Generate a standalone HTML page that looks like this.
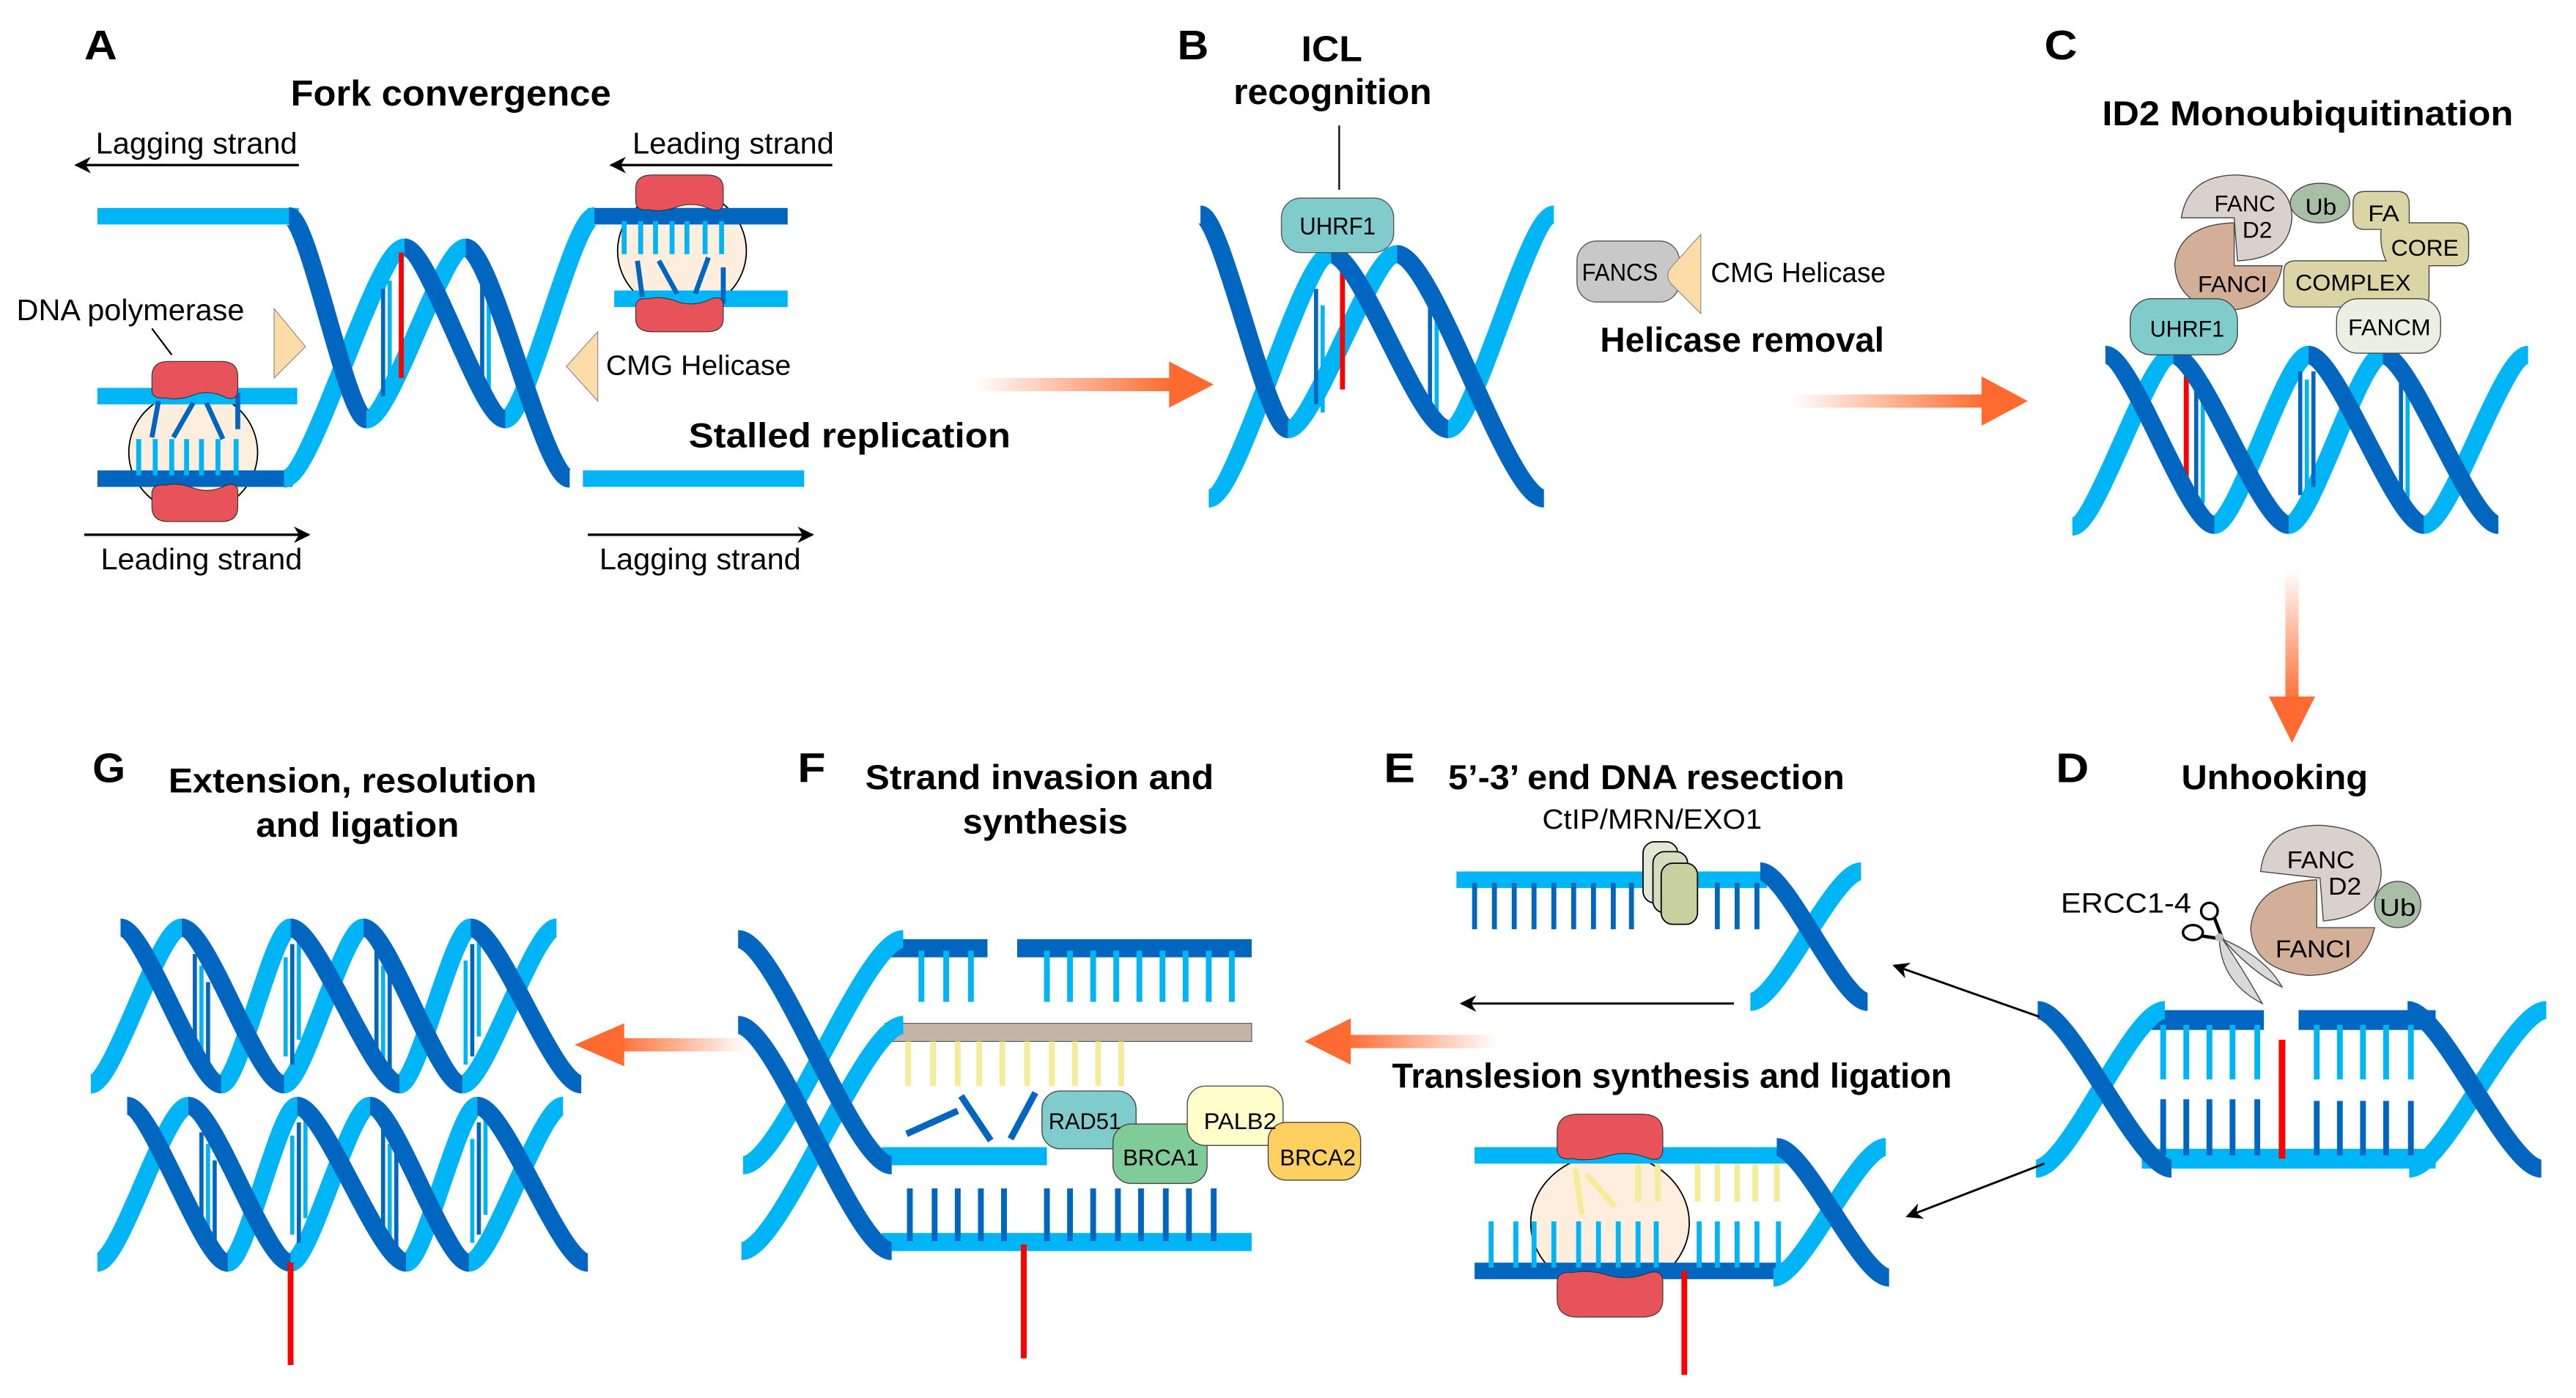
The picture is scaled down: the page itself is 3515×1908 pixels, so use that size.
<!DOCTYPE html>
<html><head><meta charset="utf-8"><style>
html,body{margin:0;padding:0;background:#fff;}
svg{display:block;}
text{font-family:"Liberation Sans",Arial,sans-serif;fill:#000;}
.b{font-weight:bold;}
.dk{fill:none;stroke:#0066bf;stroke-width:11;}
.lt{fill:none;stroke:#00b5f5;stroke-width:11;}
</style></head><body>
<svg width="3515" height="1908" viewBox="0 0 1560 847" preserveAspectRatio="none" xmlns="http://www.w3.org/2000/svg">
<defs>
<linearGradient id="gr" x1="0" y1="0" x2="1" y2="0"><stop offset="0" stop-color="#ff6a30" stop-opacity="0"/><stop offset="1" stop-color="#ff6a30"/></linearGradient>
<linearGradient id="gl" x1="1" y1="0" x2="0" y2="0"><stop offset="0" stop-color="#ff6a30" stop-opacity="0"/><stop offset="1" stop-color="#ff6a30"/></linearGradient>
<linearGradient id="gd" x1="0" y1="0" x2="0" y2="1"><stop offset="0" stop-color="#ff6a30" stop-opacity="0"/><stop offset="1" stop-color="#ff6a30"/></linearGradient>
<marker id="ah" markerWidth="10" markerHeight="10" refX="9" refY="5" orient="auto" markerUnits="userSpaceOnUse"><path d="M0,0 L10,5 L0,10 L3,5 Z" fill="#000"/></marker>
<g id="ghelix">
<path class="lt" d="M134 657 C145 657 165 562 176 562"/>
<path class="lt" d="M242 657 C253 657 274 562 285 562"/>
<path class="lt" d="M55 657 C69 657 96 562 110 562"/>
<path class="lt" d="M172 657 C184 657 208 562 220 562"/>
<path class="lt" d="M280 657 C294 657 323 562 337 562"/>
<g stroke-width="2.5">
<line x1="118" y1="578" x2="118" y2="640" stroke="#0066bf"/><line x1="122" y1="585" x2="122" y2="648" stroke="#00b5f5"/><line x1="126" y1="595" x2="126" y2="650" stroke="#0066bf"/>
<line x1="173" y1="580" x2="173" y2="640" stroke="#00b5f5"/><line x1="177" y1="572" x2="177" y2="645" stroke="#0066bf"/><line x1="181" y1="566" x2="181" y2="630" stroke="#00b5f5"/>
<line x1="228" y1="575" x2="228" y2="640" stroke="#0066bf"/><line x1="232" y1="585" x2="232" y2="648" stroke="#00b5f5"/><line x1="236" y1="590" x2="236" y2="650" stroke="#0066bf"/>
<line x1="282" y1="582" x2="282" y2="645" stroke="#00b5f5"/><line x1="286" y1="572" x2="286" y2="640" stroke="#0066bf"/><line x1="290" y1="566" x2="290" y2="628" stroke="#00b5f5"/>
</g>
<path class="dk" d="M73 562 C88 562 119 657 134 657"/>
<path class="dk" d="M176 562 C192 562 226 657 242 657"/>
<path class="dk" d="M285 562 C302 562 335 657 352 657"/>
<path class="dk" d="M110 562 C126 562 156 657 172 657"/>
<path class="dk" d="M220 562 C235 562 265 657 280 657"/>
</g>
</defs>

<!-- ================= PANEL A ================= -->
<text x="51" y="36" class="b" font-size="25" textLength="20" lengthAdjust="spacingAndGlyphs">A</text>
<text x="176" y="64" class="b" font-size="22" textLength="194" lengthAdjust="spacingAndGlyphs">Fork convergence</text>
<text x="58" y="93" font-size="18" textLength="122" lengthAdjust="spacingAndGlyphs">Lagging strand</text>
<line x1="181" y1="100" x2="46" y2="100" stroke="#000" stroke-width="1.5" marker-end="url(#ah)"/>
<text x="383" y="93" font-size="18" textLength="122" lengthAdjust="spacingAndGlyphs">Leading strand</text>
<line x1="504" y1="100" x2="370" y2="100" stroke="#000" stroke-width="1.5" marker-end="url(#ah)"/>
<line x1="51" y1="324" x2="187" y2="324" stroke="#000" stroke-width="1.5" marker-end="url(#ah)"/>
<text x="61" y="345" font-size="18" textLength="122" lengthAdjust="spacingAndGlyphs">Leading strand</text>
<line x1="356" y1="324" x2="492" y2="324" stroke="#000" stroke-width="1.5" marker-end="url(#ah)"/>
<text x="363" y="345" font-size="18" textLength="122" lengthAdjust="spacingAndGlyphs">Lagging strand</text>
<text x="10" y="194" font-size="18" textLength="138" lengthAdjust="spacingAndGlyphs">DNA polymerase</text>
<line x1="92" y1="199" x2="104" y2="215" stroke="#000" stroke-width="1"/>
<text x="367" y="227" font-size="17" textLength="112" lengthAdjust="spacingAndGlyphs">CMG Helicase</text>
<text x="417" y="271" class="b" font-size="21" textLength="195" lengthAdjust="spacingAndGlyphs">Stalled replication</text>

<ellipse cx="117" cy="274" rx="39" ry="37" fill="#fdeedd" stroke="#000" stroke-width="0.8"/>
<ellipse cx="413" cy="152" rx="39" ry="37" fill="#fdeedd" stroke="#000" stroke-width="0.8"/>
<rect x="59" y="126" width="122" height="10" fill="#00b5f5"/>
<rect x="59" y="235" width="121" height="10" fill="#00b5f5"/>
<rect x="59" y="285" width="118" height="10" fill="#0066bf"/>
<rect x="356" y="126" width="121" height="10" fill="#0066bf"/>
<rect x="372" y="176" width="105" height="10" fill="#00b5f5"/>
<rect x="353" y="285" width="134" height="10" fill="#00b5f5"/>
<g stroke="#00b5f5" stroke-width="3">
<line x1="84" y1="266" x2="84" y2="288"/><line x1="94" y1="266" x2="94" y2="288"/><line x1="104" y1="266" x2="104" y2="288"/><line x1="113" y1="266" x2="113" y2="288"/><line x1="122" y1="266" x2="122" y2="288"/><line x1="132" y1="266" x2="132" y2="288"/><line x1="143" y1="266" x2="143" y2="288"/>
<line x1="378" y1="134" x2="378" y2="154"/><line x1="388" y1="134" x2="388" y2="154"/><line x1="397" y1="134" x2="397" y2="154"/><line x1="407" y1="134" x2="407" y2="154"/><line x1="416" y1="134" x2="416" y2="154"/><line x1="427" y1="134" x2="427" y2="154"/><line x1="437" y1="134" x2="437" y2="154"/>
</g>
<g stroke="#0066bf" stroke-width="3">
<line x1="96" y1="243" x2="92" y2="265"/><line x1="117" y1="244" x2="105" y2="265"/><line x1="125" y1="244" x2="135" y2="266"/><line x1="144" y1="238" x2="144" y2="260"/>
<line x1="386" y1="158" x2="389" y2="180"/><line x1="399" y1="158" x2="410" y2="178"/><line x1="429" y1="156" x2="421" y2="178"/><line x1="438" y1="162" x2="438" y2="184"/>
</g>
<path d="M92 228 Q92 219 102 219 L134 219 Q144 219 144 228 L144 236 Q144 243 137 241 Q128 236 118 239 Q108 243 100 241 Q92 242 92 236 Z" fill="#e8525a" stroke="#333" stroke-width="0.5"/>
<path d="M92 307 Q92 316 102 316 L134 316 Q144 316 144 307 L144 298 Q144 292 137 294 Q128 299 118 296 Q108 292 100 294 Q92 293 92 299 Z" fill="#e8525a" stroke="#333" stroke-width="0.5"/>
<path d="M385 114 Q385 106 395 106 L428 106 Q438 106 438 114 L438 122 Q438 129 431 127 Q421 122 411 125 Q401 129 393 127 Q385 128 385 122 Z" fill="#e8525a" stroke="#333" stroke-width="0.5"/>
<path d="M385 193 Q385 201 395 201 L428 201 Q438 201 438 193 L438 185 Q438 179 431 181 Q421 186 411 183 Q401 179 393 181 Q385 180 385 186 Z" fill="#e8525a" stroke="#333" stroke-width="0.5"/>
<path d="M166 187 L185 210 L166 229 Z" fill="#fddcaa" stroke="#888" stroke-width="0.5"/>
<path d="M362 201 L343 222 L362 243 Z" fill="#fddcaa" stroke="#888" stroke-width="0.5"/>
<path class="lt" d="M222 254 C237 254 267 150 282 150"/>
<path class="lt" d="M172 290 C190 290 227 150 245 150"/>
<path class="lt" d="M306 254 C319 254 347 131 360 131"/>
<g stroke-width="2.5">
<line x1="232" y1="175" x2="232" y2="240" stroke="#0066bf"/><line x1="236" y1="170" x2="236" y2="245" stroke="#00b5f5"/>
<line x1="292" y1="170" x2="292" y2="235" stroke="#0066bf"/><line x1="296" y1="175" x2="296" y2="240" stroke="#00b5f5"/>
</g>
<line x1="243" y1="153" x2="243" y2="229" stroke="#ff0000" stroke-width="3"/>
<path class="dk" d="M175 131 C187 131 210 254 222 254"/>
<path class="dk" d="M282 150 C298 150 329 290 345 290"/>
<path class="dk" d="M245 150 C260 150 291 254 306 254"/>

<rect x="590" y="229" width="120" height="8" fill="url(#gr)"/>
<path d="M708 219 L735 233 L708 247 Z" fill="#ff6a30"/>

<!-- ================= PANEL B ================= -->
<text x="713" y="36" class="b" font-size="25" textLength="19" lengthAdjust="spacingAndGlyphs">B</text>
<text x="788" y="37" class="b" font-size="22" textLength="37" lengthAdjust="spacingAndGlyphs">ICL</text>
<text x="747" y="63" class="b" font-size="22" textLength="120" lengthAdjust="spacingAndGlyphs">recognition</text>
<line x1="811" y1="76" x2="811" y2="115" stroke="#000" stroke-width="1"/>
<path class="lt" d="M780 260 C796 260 830 154 846 154"/>
<path class="lt" d="M732 302 C750 302 788 154 806 154"/>
<path class="lt" d="M877 260 C893 260 925 130 941 130"/>
<g stroke-width="2.5">
<line x1="797" y1="175" x2="797" y2="245" stroke="#0066bf"/><line x1="801" y1="185" x2="801" y2="250" stroke="#00b5f5"/>
<line x1="866" y1="175" x2="866" y2="245" stroke="#0066bf"/><line x1="870" y1="185" x2="870" y2="250" stroke="#00b5f5"/>
</g>
<line x1="813" y1="160" x2="813" y2="236" stroke="#ff0000" stroke-width="3"/>
<path class="dk" d="M727 130 C740 130 767 260 780 260"/>
<path class="dk" d="M846 154 C868 154 913 302 935 302"/>
<path class="dk" d="M806 154 C824 154 859 260 877 260"/>
<rect x="776" y="120" width="68" height="33" rx="12" fill="#80cccc" stroke="#555" stroke-width="0.6"/>
<text x="787" y="142" font-size="15" textLength="46" lengthAdjust="spacingAndGlyphs">UHRF1</text>
<rect x="955" y="146" width="62" height="37" rx="12" fill="#c8c8c8" stroke="#555" stroke-width="0.6"/>
<text x="958" y="170" font-size="15" textLength="46" lengthAdjust="spacingAndGlyphs">FANCS</text>
<path d="M1030 142 L1012 162 Q1008 167 1012 172 L1030 190 Z" fill="#fddcaa" stroke="#888" stroke-width="0.5"/>
<text x="1036" y="171" font-size="17" textLength="106" lengthAdjust="spacingAndGlyphs">CMG Helicase</text>
<text x="969" y="213" class="b" font-size="21" textLength="172" lengthAdjust="spacingAndGlyphs">Helicase removal</text>
<rect x="1085" y="239" width="118" height="8" fill="url(#gr)"/>
<path d="M1200 228 L1228 243 L1200 258 Z" fill="#ff6a30"/>

<!-- ================= PANEL C ================= -->
<text x="1238" y="36" class="b" font-size="25" textLength="20" lengthAdjust="spacingAndGlyphs">C</text>
<text x="1273" y="76" class="b" font-size="21" textLength="249" lengthAdjust="spacingAndGlyphs">ID2 Monoubiquitination</text>
<path class="lt" d="M1341 318 C1355 318 1384 215 1398 215"/>
<path class="lt" d="M1468 318 C1484 318 1515 215 1531 215"/>
<path class="lt" d="M1255 319 C1270 319 1301 215 1316 215"/>
<path class="lt" d="M1386 318 C1400 318 1429 215 1443 215"/>
<g stroke-width="2.5">
<line x1="1330" y1="230" x2="1330" y2="300" stroke="#0066bf"/><line x1="1334" y1="235" x2="1334" y2="305" stroke="#00b5f5"/>
<line x1="1393" y1="225" x2="1393" y2="300" stroke="#0066bf"/><line x1="1397" y1="230" x2="1397" y2="305" stroke="#00b5f5"/><line x1="1401" y1="225" x2="1401" y2="295" stroke="#0066bf"/>
<line x1="1454" y1="228" x2="1454" y2="300" stroke="#0066bf"/><line x1="1458" y1="232" x2="1458" y2="305" stroke="#00b5f5"/>
</g>
<line x1="1324" y1="223" x2="1324" y2="300" stroke="#ff0000" stroke-width="3"/>
<path class="dk" d="M1275 215 C1291 215 1325 318 1341 318"/>
<path class="dk" d="M1398 215 C1415 215 1451 318 1468 318"/>
<path class="dk" d="M1316 215 C1333 215 1369 318 1386 318"/>
<path class="dk" d="M1443 215 C1460 215 1496 318 1513 318"/>
<path d="M1321 132 Q1325 106 1355 106 Q1388 108 1388 132 Q1386 157 1355 158 L1353 132 Z" fill="#dad0cc" stroke="#444" stroke-width="0.6"/>
<path d="M1353 135 L1353 161 L1382 161 Q1378 186 1350 188 Q1318 186 1317 160 Q1320 136 1353 135 Z" fill="#d4af97" stroke="#444" stroke-width="0.6"/>
<ellipse cx="1405" cy="123" rx="18" ry="12" fill="#a8bfa6" stroke="#444" stroke-width="0.6"/>
<path d="M1432 116 L1452 116 Q1459 116 1459 124 L1459 135 L1488 135 Q1495 135 1495 143 L1495 154 Q1495 161 1488 161 L1471 161 L1471 179 Q1471 186 1464 186 L1390 186 Q1383 186 1383 179 L1383 165 Q1383 158 1390 158 L1445 158 Q1441 150 1442 139 L1432 139 Q1425 139 1425 132 L1425 123 Q1425 116 1432 116 Z" fill="#dbd5a6" stroke="#444" stroke-width="0.6"/>
<rect x="1290" y="181" width="65" height="34" rx="13" fill="#80cccc" stroke="#444" stroke-width="0.6"/>
<rect x="1415" y="181" width="63" height="33" rx="13" fill="#ebefe2" stroke="#444" stroke-width="0.6"/>
<g font-size="14">
<text x="1341" y="128" textLength="37" lengthAdjust="spacingAndGlyphs">FANC</text>
<text x="1358" y="144" textLength="18" lengthAdjust="spacingAndGlyphs">D2</text>
<text x="1396" y="130" textLength="19" lengthAdjust="spacingAndGlyphs">Ub</text>
<text x="1434" y="134" textLength="19" lengthAdjust="spacingAndGlyphs">FA</text>
<text x="1448" y="155" textLength="41" lengthAdjust="spacingAndGlyphs">CORE</text>
<text x="1390" y="176" textLength="70" lengthAdjust="spacingAndGlyphs">COMPLEX</text>
<text x="1331" y="177" textLength="42" lengthAdjust="spacingAndGlyphs">FANCI</text>
<text x="1302" y="204" textLength="45" lengthAdjust="spacingAndGlyphs">UHRF1</text>
<text x="1422" y="203" textLength="50" lengthAdjust="spacingAndGlyphs">FANCM</text>
</g>
<rect x="1384" y="345" width="8" height="82" fill="url(#gd)"/>
<path d="M1374 422 L1402 422 L1388 450 Z" fill="#ff6a30"/>

<!-- ================= PANEL D ================= -->
<text x="1245" y="474" class="b" font-size="25" textLength="20" lengthAdjust="spacingAndGlyphs">D</text>
<text x="1321" y="478" class="b" font-size="21" textLength="113" lengthAdjust="spacingAndGlyphs">Unhooking</text>
<path d="M1369 528 Q1372 500 1405 500 Q1442 502 1442 530 Q1440 555 1407 558 L1405 532 Z" fill="#dad0cc" stroke="#444" stroke-width="0.6"/>
<path d="M1403 533 L1403 562 L1438 562 Q1432 590 1398 591 Q1364 588 1363 562 Q1366 535 1403 533 Z" fill="#d4af97" stroke="#444" stroke-width="0.6"/>
<ellipse cx="1452" cy="548" rx="14" ry="14" fill="#a8bfa6" stroke="#444" stroke-width="0.6"/>
<g font-size="15">
<text x="1385" y="526" textLength="41" lengthAdjust="spacingAndGlyphs">FANC</text>
<text x="1410" y="542" textLength="20" lengthAdjust="spacingAndGlyphs">D2</text>
<text x="1441" y="555" textLength="22" lengthAdjust="spacingAndGlyphs">Ub</text>
<text x="1378" y="580" textLength="46" lengthAdjust="spacingAndGlyphs">FANCI</text>
</g>
<text x="1248" y="553" font-size="17" textLength="79" lengthAdjust="spacingAndGlyphs">ERCC1-4</text>
<path d="M1344 569 Q1345 595 1370 608 Q1360 590 1346 569 Z" fill="#d9d9d9" stroke="#444" stroke-width="0.6"/>
<path d="M1346 569 Q1372 580 1382 598 Q1365 590 1346 569 Z" fill="#d9d9d9" stroke="#444" stroke-width="0.6"/>
<line x1="1333" y1="567" x2="1346" y2="569" stroke="#000" stroke-width="2"/>
<line x1="1341" y1="556" x2="1346" y2="569" stroke="#000" stroke-width="2"/>
<ellipse cx="1328" cy="565" rx="6" ry="4.5" fill="none" stroke="#000" stroke-width="1.5"/>
<ellipse cx="1338" cy="552" rx="5" ry="5" fill="none" stroke="#000" stroke-width="1.5"/>
<circle cx="1344" cy="568" r="2.5" fill="#bbb"/>
<rect x="1297" y="696" width="178" height="12" fill="#00b5f5"/>
<rect x="1303" y="612" width="68" height="12" fill="#0066bf"/>
<rect x="1392" y="612" width="83" height="12" fill="#0066bf"/>
<g stroke="#00b5f5" stroke-width="3.5">
<line x1="1310" y1="621" x2="1310" y2="654"/><line x1="1324" y1="621" x2="1324" y2="654"/><line x1="1338" y1="621" x2="1338" y2="654"/><line x1="1352" y1="621" x2="1352" y2="654"/><line x1="1367" y1="621" x2="1367" y2="654"/>
<line x1="1403" y1="621" x2="1403" y2="654"/><line x1="1417" y1="621" x2="1417" y2="654"/><line x1="1431" y1="621" x2="1431" y2="654"/><line x1="1445" y1="621" x2="1445" y2="654"/><line x1="1460" y1="621" x2="1460" y2="654"/>
</g>
<g stroke="#0066bf" stroke-width="3.5">
<line x1="1310" y1="666" x2="1310" y2="700"/><line x1="1324" y1="666" x2="1324" y2="700"/><line x1="1338" y1="666" x2="1338" y2="700"/><line x1="1352" y1="666" x2="1352" y2="700"/><line x1="1367" y1="666" x2="1367" y2="700"/>
<line x1="1403" y1="667" x2="1403" y2="700"/><line x1="1417" y1="667" x2="1417" y2="700"/><line x1="1431" y1="667" x2="1431" y2="700"/><line x1="1445" y1="667" x2="1445" y2="700"/><line x1="1460" y1="667" x2="1460" y2="700"/>
</g>
<line x1="1382" y1="630" x2="1382" y2="702" stroke="#ff0000" stroke-width="4"/>
<path class="lt" d="M1233 708 C1253 708 1291 612 1311 612"/>
<path class="lt" d="M1459 708 C1480 708 1521 612 1542 612"/>
<path class="dk" d="M1234 612 C1254 612 1295 708 1315 708"/>
<path class="dk" d="M1458 612 C1478 612 1519 708 1539 708"/>
<line x1="1235" y1="616" x2="1147" y2="585" stroke="#000" stroke-width="1.3" marker-end="url(#ah)"/>
<line x1="1238" y1="705" x2="1155" y2="737" stroke="#000" stroke-width="1.3" marker-end="url(#ah)"/>

<!-- ================= PANEL E ================= -->
<text x="838" y="474" class="b" font-size="25" textLength="19" lengthAdjust="spacingAndGlyphs">E</text>
<text x="877" y="478" class="b" font-size="21" textLength="240" lengthAdjust="spacingAndGlyphs">5’-3’ end DNA resection</text>
<text x="934" y="502" font-size="17" textLength="133" lengthAdjust="spacingAndGlyphs">CtIP/MRN/EXO1</text>
<rect x="882" y="528" width="188" height="10" fill="#00b5f5"/>
<g stroke="#0066bf" stroke-width="3">
<line x1="893" y1="535" x2="893" y2="563"/><line x1="905" y1="535" x2="905" y2="563"/><line x1="917" y1="535" x2="917" y2="563"/><line x1="929" y1="535" x2="929" y2="563"/><line x1="941" y1="535" x2="941" y2="563"/><line x1="953" y1="535" x2="953" y2="563"/><line x1="965" y1="535" x2="965" y2="563"/><line x1="977" y1="535" x2="977" y2="563"/><line x1="988" y1="535" x2="988" y2="563"/><line x1="1040" y1="535" x2="1040" y2="563"/><line x1="1052" y1="535" x2="1052" y2="563"/><line x1="1064" y1="535" x2="1064" y2="563"/>
</g>
<rect x="995" y="510" width="21" height="37" rx="7" fill="#e3e8d6" stroke="#000" stroke-width="0.8"/>
<rect x="1001" y="516" width="21" height="37" rx="7" fill="#d6dcc0" stroke="#000" stroke-width="0.8"/>
<rect x="1006" y="523" width="22" height="37" rx="7" fill="#c8d0a0" stroke="#000" stroke-width="0.8"/>
<path class="lt" d="M1060 607 C1077 607 1110 528 1127 528"/>
<path class="dk" d="M1066 528 C1082 528 1115 607 1131 607"/>
<line x1="1050" y1="608" x2="885" y2="608" stroke="#000" stroke-width="1.3" marker-end="url(#ah)"/>
<rect x="815" y="627" width="92" height="8" fill="url(#gl)"/>
<path d="M818 617 L790 631 L818 645 Z" fill="#ff6a30"/>
<text x="843" y="659" class="b" font-size="21" textLength="339" lengthAdjust="spacingAndGlyphs">Translesion synthesis and ligation</text>
<ellipse cx="975" cy="741" rx="48" ry="42" fill="#fdeedd" stroke="#000" stroke-width="0.8"/>
<rect x="893" y="695" width="190" height="10" fill="#00b5f5"/>
<rect x="893" y="765" width="190" height="10" fill="#0066bf"/>
<g stroke="#f5ec9a" stroke-width="3.5">
<line x1="992" y1="705" x2="992" y2="728"/><line x1="1004" y1="705" x2="1004" y2="728"/><line x1="1028" y1="705" x2="1028" y2="728"/><line x1="1040" y1="705" x2="1040" y2="728"/><line x1="1052" y1="705" x2="1052" y2="728"/><line x1="1063" y1="705" x2="1063" y2="728"/><line x1="1076" y1="705" x2="1076" y2="728"/>
<line x1="954" y1="708" x2="958" y2="736"/><line x1="961" y1="712" x2="978" y2="731"/>
</g>
<g stroke="#00b5f5" stroke-width="3">
<line x1="903" y1="740" x2="903" y2="768"/><line x1="918" y1="740" x2="918" y2="768"/><line x1="929" y1="740" x2="929" y2="768"/><line x1="941" y1="740" x2="941" y2="768"/><line x1="956" y1="740" x2="956" y2="768"/><line x1="968" y1="740" x2="968" y2="768"/><line x1="980" y1="740" x2="980" y2="768"/><line x1="992" y1="740" x2="992" y2="768"/><line x1="1003" y1="740" x2="1003" y2="768"/><line x1="1029" y1="740" x2="1029" y2="768"/><line x1="1040" y1="740" x2="1040" y2="768"/><line x1="1052" y1="740" x2="1052" y2="768"/><line x1="1064" y1="740" x2="1064" y2="768"/><line x1="1077" y1="740" x2="1077" y2="768"/>
</g>
<path d="M943 686 Q943 675 956 675 L994 675 Q1007 675 1007 686 L1007 696 Q1007 704 999 702 Q987 697 975 700 Q963 704 952 702 Q943 703 943 696 Z" fill="#e8525a" stroke="#333" stroke-width="0.5"/>
<path d="M943 787 Q943 798 956 798 L994 798 Q1007 798 1007 787 L1007 777 Q1007 769 999 771 Q987 776 975 773 Q963 769 952 771 Q943 770 943 777 Z" fill="#e8525a" stroke="#333" stroke-width="0.5"/>
<line x1="1020" y1="770" x2="1020" y2="833" stroke="#ff0000" stroke-width="3.5"/>
<path class="lt" d="M1074 774 C1091 774 1125 695 1142 695"/>
<path class="dk" d="M1076 695 C1093 695 1127 774 1144 774"/>

<!-- ================= PANEL F ================= -->
<text x="483" y="474" class="b" font-size="25" textLength="17" lengthAdjust="spacingAndGlyphs">F</text>
<text x="524" y="478" class="b" font-size="21" textLength="211" lengthAdjust="spacingAndGlyphs">Strand invasion and</text>
<text x="583" y="505" class="b" font-size="21" textLength="100" lengthAdjust="spacingAndGlyphs">synthesis</text>
<rect x="536" y="569" width="62" height="11" fill="#0066bf"/>
<rect x="616" y="569" width="142" height="11" fill="#0066bf"/>
<g stroke="#00b5f5" stroke-width="3.5">
<line x1="558" y1="576" x2="558" y2="607"/><line x1="573" y1="576" x2="573" y2="607"/><line x1="588" y1="576" x2="588" y2="607"/>
<line x1="634" y1="576" x2="634" y2="607"/><line x1="648" y1="576" x2="648" y2="607"/><line x1="662" y1="576" x2="662" y2="607"/><line x1="676" y1="576" x2="676" y2="607"/><line x1="690" y1="576" x2="690" y2="607"/><line x1="704" y1="576" x2="704" y2="607"/><line x1="718" y1="576" x2="718" y2="607"/><line x1="732" y1="576" x2="732" y2="607"/><line x1="746" y1="576" x2="746" y2="607"/>
</g>
<rect x="536" y="620" width="222" height="11" fill="#c4b4a8" stroke="#555" stroke-width="0.5"/>
<g stroke="#f5ec9a" stroke-width="3.5">
<line x1="550" y1="631" x2="550" y2="658"/><line x1="565" y1="631" x2="565" y2="658"/><line x1="580" y1="631" x2="580" y2="658"/><line x1="593" y1="631" x2="593" y2="658"/><line x1="607" y1="631" x2="607" y2="658"/><line x1="622" y1="631" x2="622" y2="658"/><line x1="637" y1="631" x2="637" y2="658"/><line x1="651" y1="631" x2="651" y2="658"/><line x1="665" y1="631" x2="665" y2="658"/><line x1="679" y1="631" x2="679" y2="658"/>
</g>
<g stroke="#0066bf" stroke-width="4">
<line x1="549" y1="687" x2="580" y2="673"/><line x1="582" y1="664" x2="600" y2="691"/><line x1="627" y1="662" x2="612" y2="690"/>
</g>
<rect x="534" y="695" width="100" height="11" fill="#00b5f5"/>
<rect x="534" y="747" width="224" height="11" fill="#00b5f5"/>
<g stroke="#0066bf" stroke-width="3.5">
<line x1="551" y1="720" x2="551" y2="752"/><line x1="566" y1="720" x2="566" y2="752"/><line x1="580" y1="720" x2="580" y2="752"/><line x1="594" y1="720" x2="594" y2="752"/><line x1="608" y1="720" x2="608" y2="752"/><line x1="634" y1="720" x2="634" y2="752"/><line x1="648" y1="720" x2="648" y2="752"/><line x1="662" y1="720" x2="662" y2="752"/><line x1="677" y1="720" x2="677" y2="752"/><line x1="691" y1="720" x2="691" y2="752"/><line x1="706" y1="720" x2="706" y2="752"/><line x1="720" y1="720" x2="720" y2="752"/><line x1="735" y1="720" x2="735" y2="752"/>
</g>
<line x1="620" y1="754" x2="620" y2="823" stroke="#ff0000" stroke-width="3.5"/>
<path class="lt" d="M450 706 C474 706 523 569 547 569"/>
<path class="lt" d="M449 758 C473 758 523 621 547 621"/>
<path class="dk" d="M447 569 C470 569 517 706 540 706"/>
<path class="dk" d="M447 621 C470 621 517 758 540 758"/>
<rect x="631" y="661" width="57" height="35" rx="11" fill="#80cccc" stroke="#444" stroke-width="0.6"/>
<rect x="674" y="681" width="57" height="36" rx="11" fill="#80cc99" stroke="#444" stroke-width="0.6"/>
<rect x="719" y="658" width="58" height="36" rx="11" fill="#ffffcc" stroke="#444" stroke-width="0.6"/>
<rect x="768" y="680" width="56" height="35" rx="11" fill="#fdd060" stroke="#444" stroke-width="0.6"/>
<g font-size="14">
<text x="635" y="684" textLength="44" lengthAdjust="spacingAndGlyphs">RAD51</text>
<text x="680" y="706" textLength="46" lengthAdjust="spacingAndGlyphs">BRCA1</text>
<text x="729" y="684" textLength="44" lengthAdjust="spacingAndGlyphs">PALB2</text>
<text x="775" y="706" textLength="46" lengthAdjust="spacingAndGlyphs">BRCA2</text>
</g>
<rect x="372" y="629" width="80" height="8" fill="url(#gl)"/>
<path d="M378 620 L348 633 L378 646 Z" fill="#ff6a30"/>

<!-- ================= PANEL G ================= -->
<text x="56" y="474" class="b" font-size="25" textLength="20" lengthAdjust="spacingAndGlyphs">G</text>
<text x="102" y="480" class="b" font-size="21" textLength="223" lengthAdjust="spacingAndGlyphs">Extension, resolution</text>
<text x="155" y="507" class="b" font-size="21" textLength="123" lengthAdjust="spacingAndGlyphs">and ligation</text>
<use href="#ghelix"/>
<use href="#ghelix" transform="translate(4,108)"/>
<line x1="176" y1="765" x2="176" y2="827" stroke="#ff0000" stroke-width="3.5"/>
</svg>
</body></html>
